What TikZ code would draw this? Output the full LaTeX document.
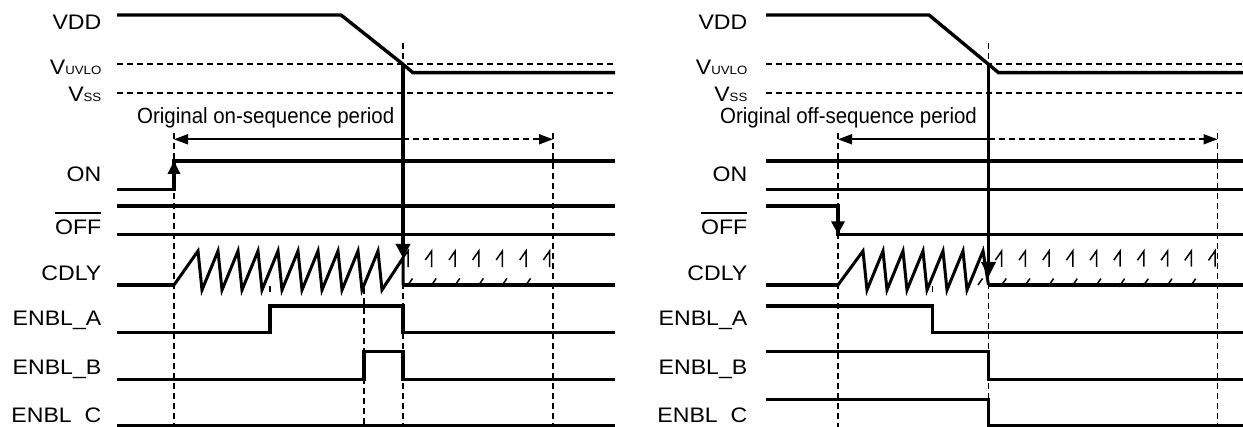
\documentclass[tikz,border=0pt]{standalone}
\usepackage{fontspec}
\setmainfont{Liberation Sans}
\newfontfamily\lblfont[FakeStretch=1.1]{Liberation Sans}
\newfontfamily\perfont[FakeStretch=0.93]{Liberation Sans}
\usetikzlibrary{arrows.meta}
\newcommand\myovl[1]{\vbox{\hrule height 1.5pt\kern 6.5pt\hbox{#1}}}
\newcommand\smallsub[1]{{\fontsize{12}{13}\selectfont #1}}
\begin{document}
\begin{tikzpicture}[x=1pt,y=-1pt,
  sig/.style={line width=3.4pt},
  saw/.style={line width=3pt},
  dsh/.style={line width=1.6pt, dash pattern=on 6pt off 4pt},
  dteeth/.style={line width=1.5pt, dash pattern=on 8pt off 22.4pt on 27pt off 18pt},
  tick/.style={line width=1.6pt},
  per/.style={line width=1.7pt},
  lbl/.style={font=\lblfont\fontsize{21}{24}\selectfont, inner sep=0pt, anchor=base east},
  ptxt/.style={font=\perfont\fontsize{22}{24}\selectfont, inner sep=0pt, anchor=base west}]
\useasboundingbox (0,0) rectangle (1243,427);

% ================= LEFT PANEL =================
\draw[dsh] (117,64.3) -- (615,64.3);
\draw[dsh] (117,93.3) -- (615,93.3);
\draw[dsh] (174,133) -- (174,427);
\draw[dsh] (553,133) -- (553,427);
\draw[dsh] (403,43) -- (403,427);
\draw[dsh] (364,288) -- (364,427);
\draw[tick] (270,286) -- (270,292);
% period arrow
\draw[per, {Triangle[length=14pt,width=10pt]}-] (174,139.3) -- (403,139.3);
\draw[per, dash pattern=on 6pt off 4pt, -{Triangle[length=14pt,width=10pt]}] (403,139.3) -- (553,139.3);
\node[ptxt] (pl) at (137,124) {Original on-sequence period};
% VDD
\draw[sig] (117,15) -- (341,15) -- (403,64.3) -- (413,72.7) -- (615,72.7);
% ON
\draw[sig] (117,189.3) -- (174,189.3) -- (174,161) -- (615,161);
\draw[sig, -{Triangle[length=13pt,width=12pt]}] (174,182) -- (174,161);
% OFF
\draw[sig] (117,206) -- (615,206);
\draw[sig] (117,234.3) -- (615,234.3);
% CDLY
\draw[sig] (117,285) -- (174,285);
\draw[saw] (174,285) -- (198,251) \foreach \k in {0,...,8} {-- ({202+20*\k},290) -- ({218+20*\k},251)} -- (382,290) -- (403,258) -- (403,285);
\draw[sig] (403,285) -- (615,285);
\draw[dteeth] (384.4,285) \foreach \k in {0,...,6} {-- ({408+23.6*\k},251) -- ({408+23.6*\k},285)};
% UVLO event arrow
\draw[sig, -{Triangle[length=14pt,width=14pt]}] (403,64.3) -- (403,258);
% ENBL_A / B / C
\draw[sig] (117,332.3) -- (270,332.3) -- (270,306) -- (403,306) -- (403,332.3) -- (615,332.3);
\draw[sig] (117,379.3) -- (364,379.3) -- (364,351.7) -- (403,351.7) -- (403,379.3) -- (615,379.3);
\draw[sig] (117,425.5) -- (615,425.5);
% labels
\node[lbl] (lvdd) at (101.5,30) {VDD};
\node[lbl] (luvlo) at (101.5,75) {V\smallsub{UVLO}};
\node[lbl] (lvss) at (101.5,101.5) {V\smallsub{SS}};
\node[lbl] (lon) at (101.5,181.7) {ON};
\node[lbl] (loff) at (101.5,235) {\myovl{OFF}};
\node[lbl] (lcdly) at (101.5,281) {CDLY};
\node[lbl] (lena) at (101.5,326) {ENBL\_A};
\node[lbl] (lenb) at (101.5,374.3) {ENBL\_B};
\begin{scope}
\clip (0,380) rectangle (110,424);
\node[lbl] (lenc) at (101.5,422.7) {ENBL\_C};
\end{scope}

% ================= RIGHT PANEL =================
\draw[dsh] (766,64.3) -- (1243,64.3);
\draw[dsh] (766,93.3) -- (1243,93.3);
\draw[dsh] (838,133) -- (838,427);
\draw[dsh] (1217.5,133) -- (1217.5,427);
\draw[dsh] (988.5,43) -- (988.5,427);
\draw[tick] (932.5,286) -- (932.5,292);
% period arrow
\draw[per, {Triangle[length=14pt,width=10pt]}-] (838,139.3) -- (988.5,139.3);
\draw[per, dash pattern=on 6pt off 4pt, -{Triangle[length=14pt,width=10pt]}] (988.5,139.3) -- (1217.5,139.3);
\node[ptxt] (pr) at (720,124) {Original off-sequence period};
% VDD
\draw[sig] (766,15) -- (929,15) -- (988.5,64.3) -- (998.5,72.7) -- (1243,72.7);
% ON
\draw[sig] (766,161) -- (1243,161);
\draw[sig] (766,189.3) -- (1243,189.3);
% OFF
\draw[sig] (766,206) -- (838,206) -- (838,234.3) -- (1243,234.3);
\draw[sig, -{Triangle[length=13pt,width=13pt]}] (838,210) -- (838,234.3);
% CDLY
\draw[sig] (766,285) -- (838,285);
\draw[saw] (838,285) -- (863,251) \foreach \k in {0,...,5} {-- ({867+20*\k},290) -- ({883+20*\k},251)} -- (988.5,285);
\draw[sig] (988.5,285) -- (1243,285);
\draw[dteeth] (978,285) \foreach \k in {0,...,9} {-- ({1001.7+23.7*\k},251) -- ({1001.7+23.7*\k},285)};
% UVLO event arrow
\draw[sig, -{Triangle[length=15pt,width=14pt]}] (988.5,64.3) -- (988.5,277);
% ENBL_A / B / C
\draw[sig] (766,306) -- (932.5,306) -- (932.5,332.3) -- (1243,332.3);
\draw[sig] (766,351.7) -- (988.5,351.7) -- (988.5,379.3) -- (1243,379.3);
\draw[sig] (766,399.3) -- (988.5,399.3) -- (988.5,425.5) -- (1243,425.5);
% labels
\node[lbl] (rvdd) at (747.5,30) {VDD};
\node[lbl] (ruvlo) at (747.5,75) {V\smallsub{UVLO}};
\node[lbl] (rvss) at (747.5,101.5) {V\smallsub{SS}};
\node[lbl] (ron) at (747.5,181.7) {ON};
\node[lbl] (roff) at (747.5,235) {\myovl{OFF}};
\node[lbl] (rcdly) at (747.5,281) {CDLY};
\node[lbl] (rena) at (747.5,326) {ENBL\_A};
\node[lbl] (renb) at (747.5,374.3) {ENBL\_B};
\begin{scope}
\clip (640,380) rectangle (756,424);
\node[lbl] (renc) at (747.5,422.7) {ENBL\_C};
\end{scope}
\end{tikzpicture}
\end{document}
